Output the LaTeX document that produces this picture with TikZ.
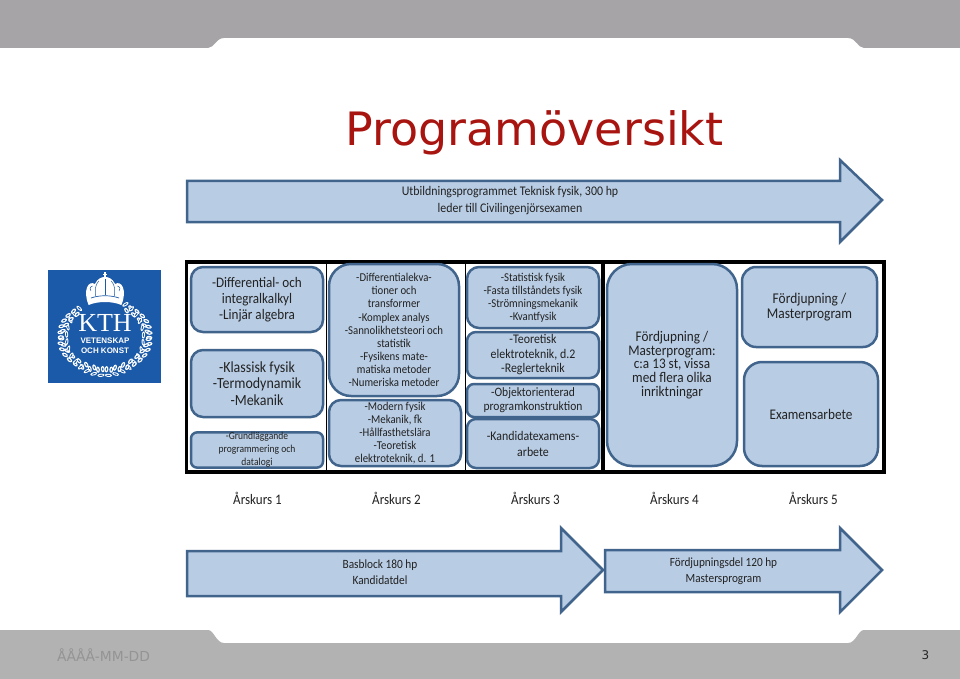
\documentclass[tikz,border=0pt]{standalone}
\usepackage{fontspec}
\setmainfont{Carlito}[FakeStretch=0.9]
\newfontfamily\djv{DejaVu Sans}
\newfontfamily\lib{Liberation Serif}
\newfontfamily\libs{Liberation Sans}
\definecolor{boxfill}{HTML}{B8CCE4}
\definecolor{boxline}{HTML}{41648C}
\definecolor{inktext}{HTML}{222222}
\definecolor{bandtop}{HTML}{A7A4A7}
\definecolor{bandbot}{HTML}{B2B2B2}
\definecolor{kthblue}{HTML}{1B5AA8}
\tikzset{
  x=1pt,y=-1pt,
  bx/.style={draw=boxline,fill=boxfill,line width=2.5pt,align=center,text=inktext,inner sep=0pt,rounded corners=#1},
  bx/.default=12pt,
  arrowshape/.style={draw=boxline,fill=boxfill,line width=2.5pt,miter limit=10},
  lab/.style={text=inktext,align=center,inner sep=0pt},
  frameline/.style={draw=black,line width=3.2pt},
  divline/.style={draw=black,line width=1.6pt},
}
\newcommand{\fsz}[2]{\fontsize{#1}{#2}\selectfont}
\begin{document}
\begin{tikzpicture}
\useasboundingbox (0,0) rectangle (960,679);
\fill[white] (0,0) rectangle (960,679);
% bands
\fill[bandtop] (0,0) -- (960,0) -- (960,48) -- (864,48) .. controls (858,48) and (856,38) .. (848,38)
  -- (224,38) .. controls (216,38) and (214,48) .. (208,48) -- (0,48) -- cycle;
\fill[bandbot] (0,679) -- (960,679) -- (960,630) -- (864,630) .. controls (858,630) and (856,643) .. (848,643)
  -- (224,643) .. controls (216,643) and (214,630) .. (208,630) -- (0,630) -- cycle;
% title
\node[text={rgb,255:red,168;green,20;blue,15},inner sep=0pt,font=\djv\fsz{46}{50}] (title) at (534.5,133) {Programöversikt};
% top arrow
\draw[arrowshape] (187,181) -- (840,181) -- (840,160) -- (882,200) -- (840,242) -- (840,222) -- (187,222) -- cycle;
\node[lab,font=\fsz{13.2}{17}] (toparrow) at (510,201) {Utbildningsprogrammet Teknisk fysik, 300 hp\\leder till Civilingenjörsexamen};
% frame
\draw[frameline] (186.5,262) rectangle (884,472);
\draw[divline] (326.5,262) -- (326.5,472);
\draw[divline] (465.5,262) -- (465.5,472);
\draw[frameline] (603,262) -- (603,472);
% column 1
\node[bx,minimum width=132pt,minimum height=65pt,font=\fsz{14.6}{16.3}] (b1) at (257,299.5) {-Differential- och\\integralkalkyl\\-Linjär algebra};
\node[bx,minimum width=132pt,minimum height=67pt,font=\fsz{15.5}{16.2}] (b2) at (257,383.5) {-Klassisk fysik\\-Termodynamik\\-Mekanik};
\node[bx=6pt,minimum width=132pt,minimum height=32pt,font=\fsz{10.6}{13}] (b3) at (257,450) {-Grundläggande\\programmering och\\datalogi};
% column 2
\node[bx=22pt,minimum width=130pt,minimum height=132pt,font=\fsz{12}{13.1}] (b4) at (394,330) {-Differentialekva-\\tioner och\\transformer\\-Komplex analys\\-Sannolikhetsteori och\\statistik\\-Fysikens mate-\\matiska metoder\\-Numeriska metoder};
\node[bx,minimum width=132pt,minimum height=66pt,font=\fsz{12}{12.8}] (b5) at (395,433) {-Modern fysik\\-Mekanik, fk\\-Hållfasthetslära\\-Teoretisk\\elektroteknik, d. 1};
% column 3
\node[bx,minimum width=132pt,minimum height=61pt,font=\fsz{12}{13}] (b6) at (533,297.5) {-Statistisk fysik\\-Fasta tillståndets fysik\\-Strömningsmekanik\\-Kvantfysik};
\node[bx=9pt,minimum width=132pt,minimum height=46pt,font=\fsz{13.2}{14.5}] (b7) at (533,355) {-Teoretisk\\elektroteknik, d.2\\-Reglerteknik};
\node[bx=7pt,minimum width=132pt,minimum height=33pt,font=\fsz{12.8}{14}] (b8) at (533,400.5) {-Objektorienterad\\programkonstruktion};
\node[bx=9pt,minimum width=132pt,minimum height=49pt,font=\fsz{13.2}{16}] (b9) at (533,443.5) {-Kandidatexamens-\\arbete};
% column 4-5
\node[bx=25pt,minimum width=130pt,minimum height=202pt,font=\fsz{14.7}{13.8}] (b10) at (672,365) {Fördjupning /\\Masterprogram:\\c:a 13 st, vissa\\med flera olika\\inriktningar};
\node[bx=14pt,minimum width=135pt,minimum height=80pt,font=\fsz{14.9}{15.5}] (b11) at (809.5,307) {Fördjupning /\\Masterprogram};
\node[bx=18pt,minimum width=134pt,minimum height=104pt,font=\fsz{14.7}{16}] (b12) at (811,414) {Examensarbete};
% years
\node[lab,font=\fsz{14.5}{15}] (y1) at (257.5,498.5) {Årskurs 1};
\node[lab,font=\fsz{14.5}{15}] (y2) at (396.5,498.5) {Årskurs 2};
\node[lab,font=\fsz{14.5}{15}] (y3) at (535.5,498.5) {Årskurs 3};
\node[lab,font=\fsz{14.5}{15}] (y4) at (674.5,498.5) {Årskurs 4};
\node[lab,font=\fsz{14.5}{15}] (y5) at (813.5,498.5) {Årskurs 5};
% bottom arrows
\draw[arrowshape] (187,551) -- (561,551) -- (561,528) -- (603,570) -- (561,612) -- (561,596) -- (187,596) -- cycle;
\draw[arrowshape] (605,550) -- (840,550) -- (840,528) -- (882,570) -- (840,612) -- (840,592) -- (605,592) -- cycle;
\node[lab,font=\fsz{12.6}{16.5}] (a1) at (380,572) {Basblock 180 hp\\Kandidatdel};
\node[lab,font=\fsz{12.5}{16.5}] (a2) at (723.5,571) {Fördjupningsdel 120 hp\\Mastersprogram};
% footer
\node[text=black!42,inner sep=0pt,anchor=west,font=\djv\fsz{13.8}{15}] (date) at (57,655.5) {ÅÅÅÅ-MM-DD};
\node[text=black!85,inner sep=0pt,font=\djv\fsz{12}{14}] (page) at (925.5,655) {3};
% KTH logo
\fill[kthblue] (48,270) rectangle (161,383);
\foreach \a in {-58,-47,...,238} {
  \begin{scope}[shift={({105+41*cos(\a)},{337+36*sin(\a)})},rotate=\a]
    \fill[white] (-2.5,0) ellipse (1.6pt and 3.6pt);
    \fill[white] (3.4,-2.4) ellipse (3.2pt and 1.9pt);
    \fill[white] (3.4,2.4) ellipse (3.2pt and 1.9pt);
    \fill[kthblue] (3.4,-2.4) ellipse (1.8pt and 0.7pt);
    \fill[kthblue] (3.4,2.4) ellipse (1.8pt and 0.7pt);
    \fill[kthblue] (-2.5,0) ellipse (0.6pt and 2pt);
  \end{scope}
}
% crown
\begin{scope}[shift={(105,305)},xscale=0.78,shift={(-105,-309)}]
\fill[white] (84,309) .. controls (76,294) and (84,284) .. (92,288) .. controls (96,282) and (101,281) .. (105,281)
  .. controls (109,281) and (114,282) .. (118,288) .. controls (126,284) and (134,294) .. (126,309)
  .. controls (114,305) and (96,305) .. (84,309) -- cycle;
\fill[white] (103.8,276) rectangle (106.2,281);
\fill[white] (102,277.5) rectangle (108,279.3);
\draw[kthblue,line width=0.7pt] (87,302) .. controls (98,299) and (112,299) .. (123,302);
\draw[kthblue,line width=0.5pt] (105,283) -- (105,299);
\draw[kthblue,line width=0.5pt] (97,285) .. controls (92,289) and (92,295) .. (93,300);
\draw[kthblue,line width=0.5pt] (113,285) .. controls (118,289) and (118,295) .. (117,300);
\draw[kthblue,line width=0.5pt] (87,295) .. controls (85,292) and (86,290) .. (89,290);
\draw[kthblue,line width=0.5pt] (123,295) .. controls (125,292) and (124,290) .. (121,290);
\end{scope}
\node[text=white,inner sep=0pt,font=\lib\fsz{26}{28}] (kth) at (105,323) {KTH};
\node[text=white,inner sep=0pt,font=\libs\bfseries\fsz{8}{8}] (vet) at (105,341) {VETENSKAP};
\node[text=white,inner sep=0pt,font=\libs\bfseries\fsz{8}{8}] (och) at (105,351) {OCH KONST};
\end{tikzpicture}
\end{document}
